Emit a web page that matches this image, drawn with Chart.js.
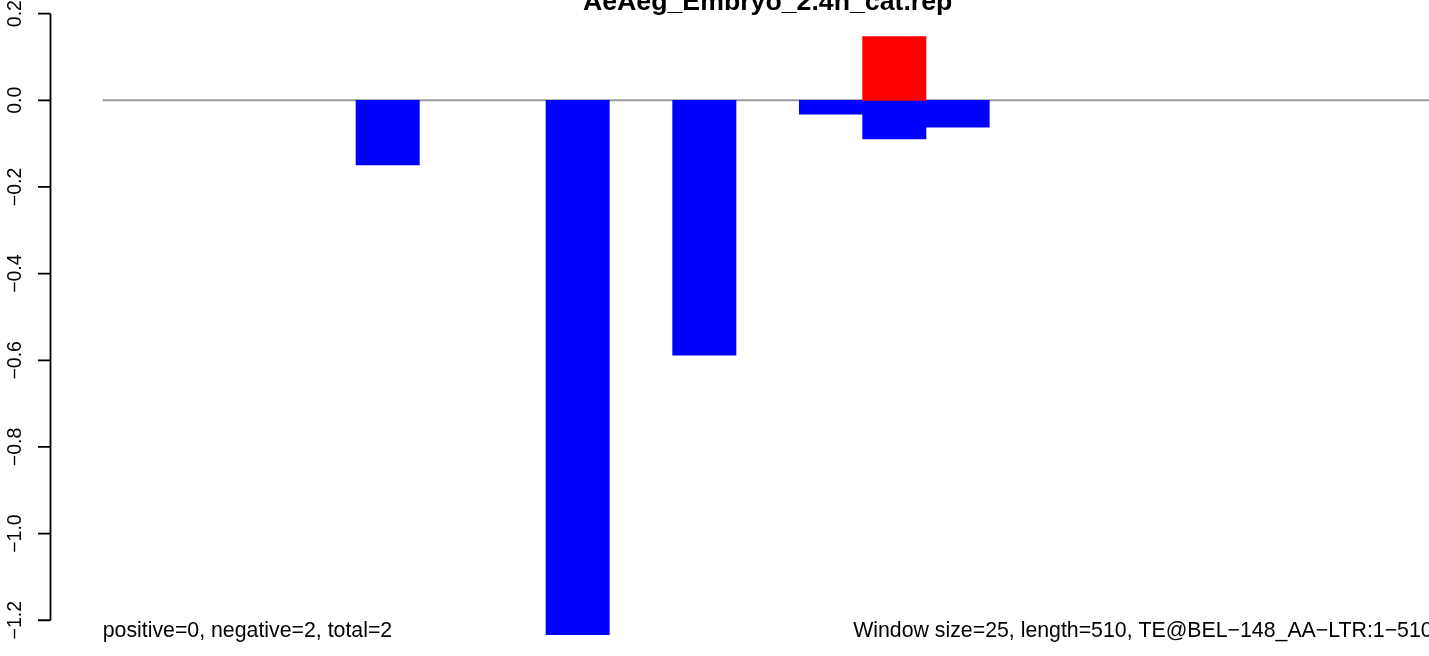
<!DOCTYPE html>
<html>
<head>
<meta charset="utf-8">
<script src="https://cdn.jsdelivr.net/npm/chart.js@4/dist/chart.umd.min.js"></script>
<style>
  html, body { margin: 0; padding: 0; background: #fff; overflow: hidden; }
  #wrap { width: 1429px; height: 656px; position: relative; }
</style>
</head>
<body>
<div id="wrap"><canvas id="barChart"></canvas></div>
<script>
// 21 windows of 25 bp over a 510 bp element
const windowIndex = [...Array(21).keys()];
const positiveValues = [0, 0, 0, 0, 0, 0, 0, 0, 0, 0, 0, 0, 0.147, 0, 0, 0, 0, 0, 0, 0, 0];
const negativeValues = [0, 0, 0, 0, -0.149, 0, 0, -1.233, 0, -0.588, 0, -0.032, -0.089, -0.062, 0, 0, 0, 0, 0, 0, 0];
const yTickValues = [0.2, 0.0, -0.2, -0.4, -0.6, -0.8, -1.0, -1.2];
const yTickLabels = ['0.2', '0.0', '\u22120.2', '\u22120.4', '\u22120.6', '\u22120.8', '\u22121.0', '\u22121.2'];
const titleText = 'AeAeg_Embryo_2.4h_cat.rep';
const leftNote = 'positive=0, negative=2, total=2';
const rightNote = 'Window size=25, length=510, TE@BEL\u2212148_AA\u2212LTR:1\u2212510';

const FONT = '"Liberation Sans", Arial, Helvetica, sans-serif';

// empty windows get no bar at all
function toPoints(values) {
    return windowIndex.map(i => ({ x: i + 0.5, y: values[i] === 0 ? null : values[i] }));
}

// R-style axis, zero line and texts, placed with the chart's own scales
const rDecor = {
    id: 'rDecor',
    beforeDatasetsDraw(chart) {
        const { ctx, scales: { x, y } } = chart;
        ctx.save();
        ctx.strokeStyle = '#9a9a9a';
        ctx.lineWidth = 2;
        ctx.beginPath();
        ctx.moveTo(x.getPixelForValue(0), y.getPixelForValue(0));
        ctx.lineTo(x.getPixelForValue(windowIndex.length), y.getPixelForValue(0));
        ctx.stroke();
        ctx.restore();
    },
    afterDraw(chart) {
        const { ctx, scales: { x, y } } = chart;
        const axisX = 50.5;
        ctx.save();
        ctx.strokeStyle = '#000';
        ctx.lineWidth = 1.8;
        ctx.beginPath();
        ctx.moveTo(axisX, y.getPixelForValue(yTickValues[0]));
        ctx.lineTo(axisX, y.getPixelForValue(yTickValues[yTickValues.length - 1]));
        yTickValues.forEach(v => {
            const py = y.getPixelForValue(v);
            ctx.moveTo(axisX, py);
            ctx.lineTo(38, py);
        });
        ctx.stroke();

        ctx.fillStyle = '#000';
        ctx.font = '19.5px ' + FONT;
        ctx.textAlign = 'center';
        ctx.textBaseline = 'alphabetic';
        yTickValues.forEach((v, i) => {
            const py = y.getPixelForValue(v);
            ctx.save();
            ctx.translate(21, py);
            ctx.rotate(-Math.PI / 2);
            ctx.fillText(yTickLabels[i], 0, 0);
            ctx.restore();
        });

        // title
        ctx.font = 'bold 26.7px ' + FONT;
        ctx.textAlign = 'center';
        ctx.fillText(titleText, x.getPixelForValue(windowIndex.length / 2), 10);

        // bottom notes
        ctx.font = '21.3px ' + FONT;
        ctx.textAlign = 'left';
        ctx.fillText(leftNote, x.getPixelForValue(0), 637);
        ctx.textAlign = 'right';
        ctx.fillText(rightNote, x.getPixelForValue(windowIndex.length), 637);
        ctx.restore();
    }
};

const ctx = document.getElementById('barChart').getContext('2d');
new Chart(ctx, {
    type: 'bar',
    data: {
        datasets: [
            {
                label: 'positive',
                data: toPoints(positiveValues),
                backgroundColor: '#ff0000',
                borderWidth: 0
            },
            {
                label: 'negative',
                data: toPoints(negativeValues),
                backgroundColor: '#0000ff',
                borderWidth: 0
            }
        ]
    },
    options: {
        responsive: true,
        maintainAspectRatio: false,
        animation: false,
        layout: { padding: 0 },
        datasets: { bar: { barPercentage: 1, categoryPercentage: 1 } },
        plugins: {
            legend: { display: false },
            tooltip: { enabled: false },
            title: { display: false }
        },
        scales: {
            x: {
                type: 'linear',
                stacked: true,
                offset: false,
                display: false,
                min: -1.6217,
                max: 20.943
            },
            y: {
                stacked: true,
                display: false,
                min: -1.2825,
                max: 0.2315
            }
        }
    },
    plugins: [rDecor]
});
</script>
</body>
</html>
